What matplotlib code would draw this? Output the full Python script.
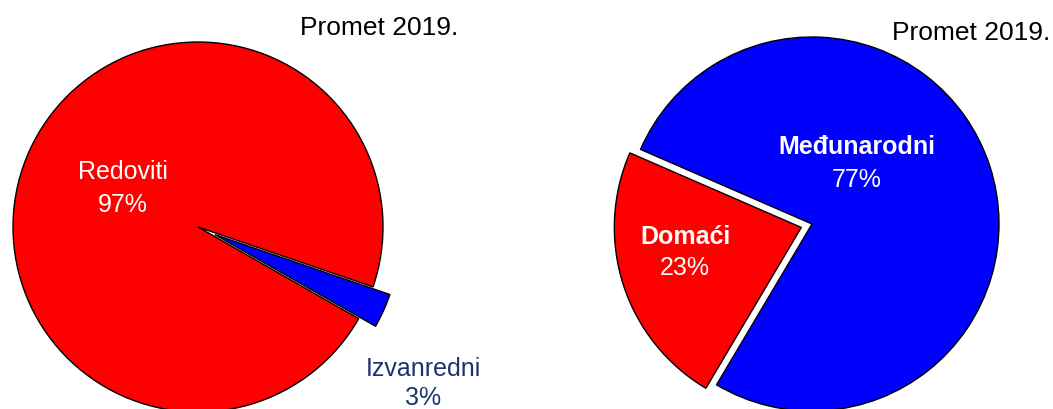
import matplotlib.pyplot as plt

# data
left_labels = ['Redoviti', 'Izvanredni']
left_values = [97, 3]
left_colors = ['#ff0000', '#0000ff']

right_labels = ['Domaći', 'Međunarodni']
right_values = [23, 77]
right_colors = ['#ff0000', '#0000ff']

title = 'Promet 2019.'

plt.rcParams['font.family'] = ['Liberation Sans', 'DejaVu Sans']

W, H = 1053, 410
fig = plt.figure(figsize=(W / 100, H / 100), dpi=100)
ax = fig.add_axes([0, 0, 1, 1])

# left pie (explode is in data units here, so scale by radius)
r_left = 185
ax.pie(left_values, colors=left_colors, startangle=-18.9, counterclock=True,
       explode=[0, 0.1 * r_left], center=(198, H - 228), radius=r_left,
       wedgeprops=dict(edgecolor='black', linewidth=1))

# right pie
r_right = 187
ax.pie(right_values, colors=right_colors, startangle=156.5, counterclock=True,
       explode=[0.06 * r_right, 0], center=(812, H - 225), radius=r_right,
       wedgeprops=dict(edgecolor='black', linewidth=1))

ax.set_xlim(0, W)
ax.set_ylim(0, H)
ax.set_aspect('equal')
ax.axis('off')

fs = 18
# left labels
ax.text(123, H - 172, left_labels[0], color='white', fontsize=fs, ha='center', va='center')
ax.text(123, H - 205, f'{left_values[0]}%', color='white', fontsize=fs, ha='center', va='center')
ax.text(423, H - 369, left_labels[1], color='#1c3370', fontsize=fs, ha='center', va='center')
ax.text(423, H - 398, f'{left_values[1]}%', color='#1c3370', fontsize=fs, ha='center', va='center')

# right labels
ax.text(685, H - 237, right_labels[0], color='white', fontsize=fs, fontweight='bold',
        ha='center', va='center')
ax.text(685, H - 268, f'{right_values[0]}%', color='white', fontsize=fs, ha='center', va='center')
ax.text(857, H - 147, right_labels[1], color='white', fontsize=fs, fontweight='bold',
        ha='center', va='center')
ax.text(857, H - 180, f'{right_values[1]}%', color='white', fontsize=fs, ha='center', va='center')

# titles
ax.text(379, H - 28, title, color='black', fontsize=19, ha='center', va='center')
ax.text(1050, H - 33, title, color='black', fontsize=19, ha='right', va='center')

fig.savefig('out.png', dpi=100)
